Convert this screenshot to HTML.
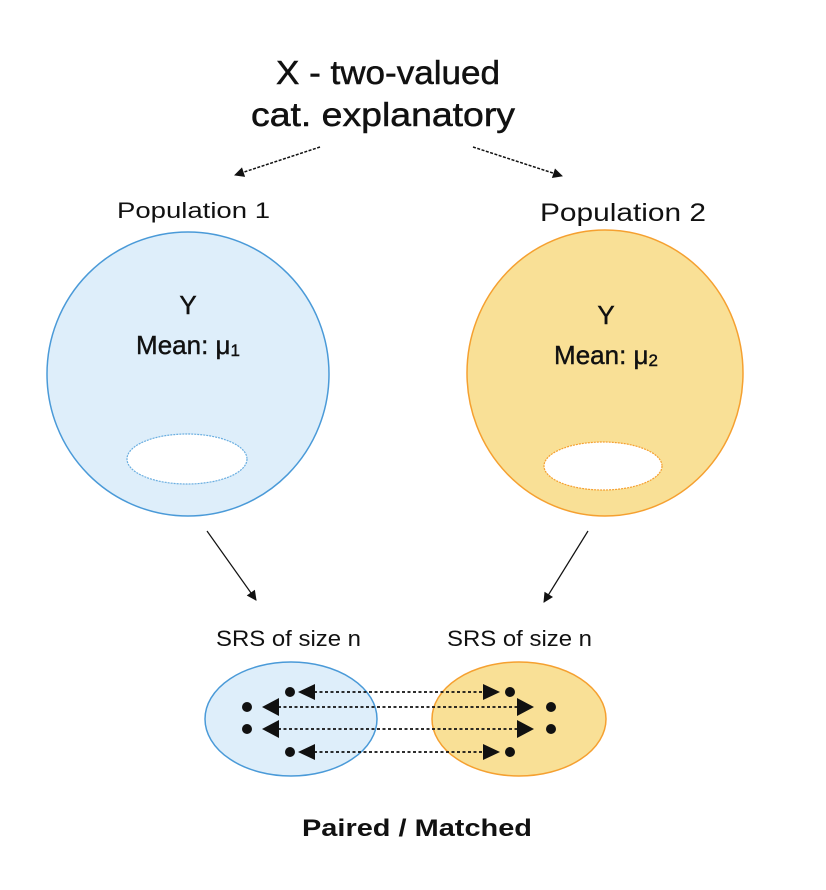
<!DOCTYPE html>
<html><head><meta charset="utf-8"><style>html,body{margin:0;padding:0;background:#fff}svg{display:block}</style></head>
<body>
<svg width="826" height="890" viewBox="0 0 826 890" xmlns="http://www.w3.org/2000/svg" font-family="Liberation Sans, sans-serif" fill="#111">
<defs>
<marker id="a" viewBox="0 0 10 10" refX="9" refY="5" markerWidth="12" markerHeight="10" markerUnits="userSpaceOnUse" orient="auto"><path d="M0,0L10,5L0,10z" fill="#111"/></marker>
</defs>
<text x="388" y="84" font-size="33" text-anchor="middle" textLength="224" lengthAdjust="spacingAndGlyphs" stroke="#111" stroke-width="0.5">X - two-valued</text>
<text x="383" y="126" font-size="33" text-anchor="middle" textLength="264" lengthAdjust="spacingAndGlyphs" stroke="#111" stroke-width="0.5">cat. explanatory</text>
<g stroke="#111" stroke-width="1.5" stroke-dasharray="3,1.5" fill="none">
<line x1="320" y1="147" x2="235" y2="175" marker-end="url(#a)"/>
<line x1="473" y1="147" x2="562" y2="176" marker-end="url(#a)"/>
<line x1="207" y1="531" x2="256" y2="600" marker-end="url(#a)" stroke-dasharray="none" stroke-width="1.2"/>
<line x1="588" y1="531" x2="544" y2="602" marker-end="url(#a)" stroke-dasharray="none" stroke-width="1.2"/>
</g>
<text x="117" y="218" font-size="22" textLength="153" lengthAdjust="spacingAndGlyphs">Population 1</text>
<text x="540" y="221" font-size="25" textLength="166" lengthAdjust="spacingAndGlyphs">Population 2</text>
<ellipse cx="188" cy="374" rx="141" ry="142" fill="#deeefa" stroke="#4a9ad8" stroke-width="1.5"/>
<ellipse cx="187" cy="459" rx="60" ry="25" fill="#fff" stroke="#6aaee0" stroke-width="1.2" stroke-dasharray="2,1"/>
<text x="188" y="314" font-size="26" text-anchor="middle" stroke="#111" stroke-width="0.4">Y</text>
<text x="188" y="354" font-size="26" text-anchor="middle" stroke="#111" stroke-width="0.4">Mean: μ<tspan font-size="17" dy="2">1</tspan></text>
<ellipse cx="605" cy="373" rx="138" ry="143" fill="#f9e096" stroke="#f5a030" stroke-width="1.5"/>
<ellipse cx="603" cy="466" rx="59" ry="24" fill="#fff" stroke="#f5a030" stroke-width="1.2" stroke-dasharray="2,1"/>
<text x="606" y="324" font-size="26" text-anchor="middle" stroke="#111" stroke-width="0.4">Y</text>
<text x="606" y="364" font-size="26" text-anchor="middle" stroke="#111" stroke-width="0.4">Mean: μ<tspan font-size="17" dy="2">2</tspan></text>
<text x="216" y="646" font-size="22" textLength="145" lengthAdjust="spacingAndGlyphs">SRS of size n</text>
<text x="447" y="646" font-size="22" textLength="145" lengthAdjust="spacingAndGlyphs">SRS of size n</text>
<ellipse cx="291" cy="719" rx="86" ry="57" fill="#deeefa" stroke="#4a9ad8" stroke-width="1.5"/>
<ellipse cx="519" cy="719" rx="87" ry="57" fill="#f9e096" stroke="#f5a030" stroke-width="1.5"/>
<g stroke="#111" stroke-width="1.8" stroke-dasharray="3,2.5">
<line x1="314" y1="692" x2="484" y2="692"/>
<line x1="278" y1="707" x2="518" y2="707"/>
<line x1="278" y1="729" x2="518" y2="729"/>
<line x1="314" y1="752" x2="484" y2="752"/>
</g>
<g fill="#111">
<path d="M298,692L315,684L315,700z"/><path d="M500,692L483,684L483,700z"/>
<path d="M262,707L279,698L279,716z"/><path d="M534,707L517,698L517,716z"/>
<path d="M262,729L279,720L279,738z"/><path d="M534,729L517,720L517,738z"/>
<path d="M298,752L315,744L315,760z"/><path d="M500,752L483,744L483,760z"/>
<circle cx="290" cy="692" r="5"/><circle cx="510" cy="692" r="5"/>
<circle cx="290" cy="752" r="5"/><circle cx="510" cy="752" r="5"/>
<circle cx="247" cy="707" r="5"/><circle cx="247" cy="729" r="5"/>
<circle cx="551" cy="707" r="5"/><circle cx="551" cy="729" r="5"/>
</g>
<text x="417" y="836" font-size="24" font-weight="bold" text-anchor="middle" textLength="230" lengthAdjust="spacingAndGlyphs">Paired / Matched</text>
</svg>
</body></html>
